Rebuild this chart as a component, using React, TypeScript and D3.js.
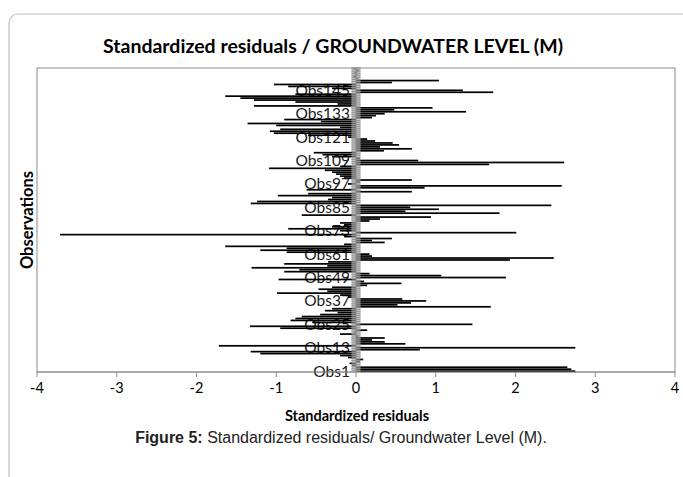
import React from 'react';
import * as d3 from 'd3';

// standardized residuals, Obs1 (bottom) .. Obs156 (top)
const residuals = [
  2.75, 2.7, 2.65, -0.05, -0.08, 0.05, 0.09, -0.1, -0.2, -1.2,
  -1.32, 0.8, 2.75, -1.72, 0.62, 0.36, 0.2, 0.36, 0.03, -0.2,
  -0.02, 0.14, -0.95, -1.33, 1.46, -0.55, -0.82, -0.76, -0.68, -0.45,
  -0.23, -0.39, -0.3, 1.69, 0.52, 0.69, 0.88, 0.58, -0.1, -0.2,
  -0.99, -0.36, -0.47, -0.3, 0.14, 0.57, 0.1, -0.97, 1.88, 1.07,
  0.17, -0.9, -0.71, -1.31, -0.36, -0.9, -0.35, 1.93, 2.48, 0.2,
  0.17, -0.87, -1.2, -0.87, -1.64, -0.15, 0.36, 0.2, 0.45, -0.15,
  -3.71, 2.01, -0.2, -0.85, -0.3, -0.15, -0.2, 0.17, 0.3, 0.94,
  -0.68, 1.8, 0.62, 1.04, 0.68, 2.45, -1.32, -1.24, -0.35, -0.3,
  -0.98, -0.6, 0.7, -0.62, 0.86, 2.58, -0.1, 0.05, 0.7, -0.15,
  -0.2, -0.25, -0.3, -0.39, -1.09, -0.2, 1.67, 2.61, 0.78, 0.05,
  -0.3, -0.42, -0.53, 0.35, 0.7, 0.3, 0.54, 0.46, 0.24, 0.14,
  -0.1, -0.6, -1.03, -1.08, -0.95, -0.2, -1.0, -1.36, -0.44, -0.9,
  0.2, 0.25, 0.36, 1.38, 0.48, 0.96, -1.28, -0.23, -0.76, -1.28,
  -1.45, -1.64, -0.76, 1.72, 1.34, -0.3, -0.85, -1.03, 0.45, 1.04,
  0.02, -0.03, 0.01, -0.02, 0.03, -0.01,
];
const observations = residuals.map((_, i) => `Obs${i + 1}`);
const shownLabels = observations.filter((_, i) => i % 12 === 0);
const xTicks = [-4, -3, -2, -1, 0, 1, 2, 3, 4];

const title = 'Standardized residuals / GROUNDWATER LEVEL (M)';
const xTitle = 'Standardized residuals';
const yTitle = 'Observations';

const W = 683;
const H = 477;
const plot = { left: 37, right: 675, top: 68, bottom: 372 };
const calibri = 'Lato, "Open Sans", sans-serif';

const App = () => {
  const x = d3.scaleLinear().domain([-4, 4]).range([plot.left, plot.right]);
  const y = d3
    .scaleBand<string>()
    .domain([...observations].reverse())
    .range([plot.top, plot.bottom])
    .paddingInner(0.12);
  const step = y.step();
  const x0 = x(0);

  return (
    <svg width={W} height={H} style={{ position: 'absolute', left: 0, top: 0 }}>
      <rect x={0} y={0} width={W} height={H} fill="#fff" />
      {/* outer frame */}
      <rect x={9} y={14} width={W + 20} height={H + 20} rx={9} fill="none" stroke="#bdbdbd" strokeWidth={1.2} />

      <text x={333} y={53} textAnchor="middle" fontFamily={calibri} fontWeight="bold" fontSize={19.5} fill="#000">
        {title}
      </text>

      {/* plot frame */}
      <rect x={plot.left} y={plot.top} width={plot.right - plot.left} height={plot.bottom - plot.top} fill="none" stroke="#8c8c8c" strokeWidth={1} />

      {/* category labels (drawn under the bars) */}
      {shownLabels.map((o) => (
        <text
          key={o}
          x={x0 - 6}
          y={(y(o) ?? 0) + step / 2}
          dy="0.35em"
          textAnchor="end"
          fontFamily={calibri}
          fontSize={15.5}
          fill="#1a1a1a"
        >
          {o}
        </text>
      ))}

      {/* bars */}
      {residuals.map((v, i) => (
        <rect
          key={i}
          x={x(Math.min(0, v))}
          y={y(observations[i]) ?? 0}
          width={Math.abs(x(v) - x0)}
          height={y.bandwidth()}
          fill="#000"
        />
      ))}

      {/* category axis with crossing tick marks at every observation */}
      {observations.map((o) => (
        <line
          key={o}
          x1={x0 - 4.5}
          x2={x0 + 4.5}
          y1={(y(o) ?? 0) - step * 0.06}
          y2={(y(o) ?? 0) - step * 0.06}
          stroke="#808080"
          strokeWidth={1}
        />
      ))}
      <rect x={x0 - 4.5} y={plot.top} width={9} height={plot.bottom - plot.top} fill="#a0a0a0" opacity={0.6} />
      <line x1={x0} x2={x0} y1={plot.top} y2={plot.bottom} stroke="#8a8a8a" />

      {/* value axis */}
      <line x1={plot.left} x2={plot.right} y1={plot.bottom} y2={plot.bottom} stroke="#8c8c8c" />
      {xTicks.map((t) => (
        <g key={t}>
          <line x1={x(t)} x2={x(t)} y1={plot.bottom} y2={plot.bottom + 5} stroke="#8c8c8c" />
          <text x={x(t)} y={393} textAnchor="middle" fontFamily={calibri} fontSize={14.5} fill="#000">
            {t}
          </text>
        </g>
      ))}

      <text x={357} y={421} textAnchor="middle" fontFamily={calibri} fontWeight="bold" fontSize={14.5} fill="#000">
        {xTitle}
      </text>
      <text
        transform={`translate(33,${(plot.top + plot.bottom) / 2}) rotate(-90)`}
        textAnchor="middle"
        fontFamily={calibri}
        fontWeight="bold"
        fontSize={16.5}
        fill="#000"
      >
        {yTitle}
      </text>

      <text x={341} y={443} textAnchor="middle" fontFamily='"Liberation Sans", Arial, sans-serif' fontSize={16} fill="#222">
        <tspan fontWeight="bold">Figure 5:</tspan> Standardized residuals/ Groundwater Level (M).
      </text>
    </svg>
  );
};

export default App;
